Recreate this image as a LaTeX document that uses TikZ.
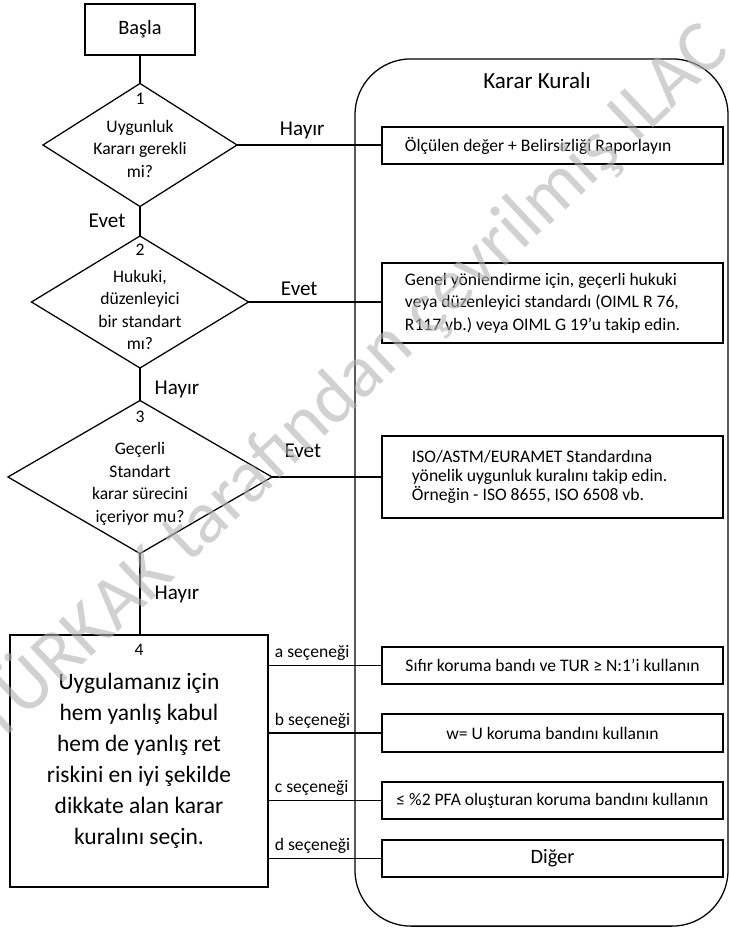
\documentclass[tikz,border=0pt]{standalone}
\usepackage{fontspec}
\setmainfont{Carlito}
\usetikzlibrary{shapes.geometric}
\frenchspacing

\begin{document}
\begin{tikzpicture}[x=0.025cm,y=-0.025cm,line width=0.9pt,
    box/.style={draw,rectangle,inner sep=0pt,outer sep=0pt,minimum width=8.525cm,minimum height=0.925cm},
    dia/.style={draw,diamond,inner sep=0pt,outer sep=0pt},
    txt/.style={font=\fontsize{12.5}{16}\selectfont,align=center,inner sep=0pt},
    lbl/.style={font=\fontsize{15}{18}\selectfont,inner sep=2pt},
    opt/.style={font=\fontsize{12.5}{15}\selectfont,inner sep=1pt,anchor=south west}]
    \useasboundingbox (0,0) rectangle (730,928);
    %Container of the decision rules
    \node[draw,rounded corners=1.4cm,minimum width=9.325cm,minimum height=21.675cm,inner sep=0pt] (kural) at (541.5,492.5) {};
    \node[font=\fontsize{16.4}{19}\selectfont] (kuraltitle) at (537,81) {Karar Kuralı};
    %Left column
    \node[draw,minimum width=2.75cm,minimum height=1.275cm,font=\fontsize{14.5}{17}\selectfont] (start) at (140,29.5) {Başla};
    \node[dia,minimum width=4.85cm,minimum height=3.075cm] (d1) at (140,145) {};
    \node[dia,minimum width=5.425cm,minimum height=3.3cm] (d2) at (140,302) {};
    \node[dia,minimum width=6.6cm,minimum height=3.825cm] (d3) at (140,477) {};
    \node[draw,minimum width=6.45cm,minimum height=6.3cm,inner sep=0pt] (box4) at (139,761) {};
    \node[txt] (n1) at (140,99) {1};
    \node[txt] (q1) at (140,148.5) {Uygunluk\\Kararı gerekli\\mi?};
    \node[txt] (n2) at (140,250) {2};
    \node[txt] (q2) at (140,310) {Hukuki,\\düzenleyici\\bir standart\\mı?};
    \node[txt] (n3) at (140,417) {3};
    \node[txt] (q3) at (140,484) {Geçerli\\Standart\\karar sürecini\\içeriyor mu?};
    \node[txt] (n4) at (139,650) {4};
    \node[txt,font=\fontsize{16.7}{22}\selectfont] (q4) at (139,760.5) {Uygulamanız için\\hem yanlış kabul\\hem de yanlış ret\\riskini en iyi şekilde\\dikkate alan karar\\kuralını seçin.};
    %Right column
    \node[box,inner xsep=0.575cm,text width=7.375cm,align=flush left,font=\fontsize{12.5}{16}\selectfont] (r1) at (552.5,145.5) {Ölçülen değer + Belirsizliği Raporlayın};
    \node[box,minimum height=2cm,inner xsep=0.575cm,text width=7.375cm,align=flush left,font=\fontsize{12.5}{16}\selectfont] (r2) at (552.5,303) {Genel yönlendirme için, geçerli hukuki\\veya düzenleyici standardı (OIML R 76,\\R117 vb.) veya OIML G 19’u takip edin.};
    \node[box,minimum height=2.05cm,inner xsep=0.75cm,text width=7.025cm,align=flush left,font=\fontsize{12.5}{13.5}\selectfont] (r3) at (552.5,477) {ISO/ASTM/EURAMET Standardına\\yönelik uygunluk kuralını takip edin.\\Örneğin - ISO 8655, ISO 6508 vb.};
    \node[box,font=\fontsize{12.5}{15}\selectfont] (ra) at (552.5,665.5) {Sıfır koruma bandı ve TUR ≥ N:1’i kullanın};
    \node[box,minimum height=0.95cm,font=\fontsize{12.5}{15}\selectfont] (rb) at (552.5,733) {w= U koruma bandını kullanın};
    \node[box,font=\fontsize{12.5}{15}\selectfont] (rc) at (552.5,800.5) {≤ \%2 PFA oluşturan koruma bandını kullanın};
    \node[box,font=\fontsize{14.5}{17}\selectfont] (rd) at (552.5,858.5) {Diğer};
    %Connectors
    \draw (start.south) -- (d1.north);
    \draw (d1.south) -- node[lbl,left,xshift=-8pt] {Evet} (d2.north);
    \draw (d2.south) -- node[lbl,right,xshift=8pt,yshift=-4pt] {Hayır} (d3.north);
    \draw (d3.south) -- node[lbl,right,xshift=8pt] {Hayır} (box4.north -| d3.south);
    \draw (d1.east) -- node[lbl,above,pos=.45,yshift=2pt] {Hayır} (d1.east -| r1.west);
    \draw (d2.east) -- node[lbl,above,pos=.38,yshift=2pt] {Evet} (d2.east -| r2.west);
    \draw (d3.east) -- node[lbl,above,pos=.28,yshift=11pt] {Evet} (d3.east -| r3.west);
    \draw (ra.west -| box4.east) -- node[opt,pos=0,xshift=3pt,yshift=2pt] {a seçeneği} (ra.west);
    \draw (rb.west -| box4.east) -- node[opt,pos=0,xshift=3pt,yshift=2pt] {b seçeneği} (rb.west);
    \draw (rc.west -| box4.east) -- node[opt,pos=0,xshift=3pt,yshift=2pt] {c seçeneği} (rc.west);
    \draw (rd.west -| box4.east) -- node[opt,pos=0,xshift=3pt,yshift=2pt] {d seçeneği} (rd.west);
    %Watermark
    \node[rotate=43.3,anchor=base,inner sep=0pt,text=black!30,text opacity=0.6,font=\fontsize{53}{60}\selectfont] (mark) at (365,399) {TÜRKAK tarafından çevrilmiş ILAC};
\end{tikzpicture}
\end{document}
